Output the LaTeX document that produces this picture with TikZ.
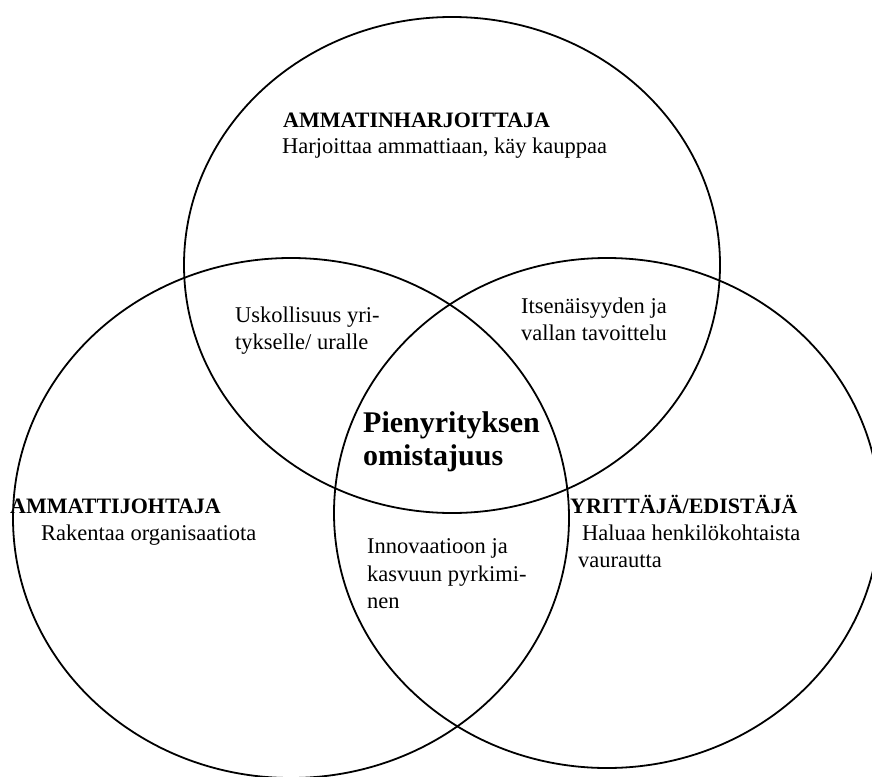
\documentclass[tikz,border=0pt]{standalone}
\usepackage{fontspec}
\setmainfont{Liberation Serif}
\begin{document}
\begin{tikzpicture}[x=1pt,y=-1pt,
  ring/.style={draw=black,line width=1.8pt},
  txt/.style={inner sep=0pt,anchor=base west,font=\fontsize{22.5}{26}\selectfont},
  head/.style={txt,font=\fontsize{22}{26}\selectfont\bfseries},
  core/.style={inner sep=0pt,anchor=base west,font=\fontsize{30}{34}\selectfont\bfseries}]
\useasboundingbox (0,0) rectangle (872,776);

% the three overlapping roles
\draw[ring] (452,265) ellipse [x radius=268pt, y radius=248pt];
\draw[ring] (291,518) ellipse [x radius=278pt, y radius=260pt];
\draw[ring] (607,513) ellipse [x radius=273pt, y radius=255pt];

% top circle
\node[head] (t1) at (283,127) {AMMATINHARJOITTAJA};
\node[txt]  (t2) at (282,153) {Harjoittaa ammattiaan, käy kauppaa};

% top/left overlap
\node[txt] (tl1) at (235,322) {Uskollisuus yri-};
\node[txt] (tl2) at (235,349) {tykselle/ uralle};

% top/right overlap
\node[txt] (tr1) at (521,313) {Itsenäisyyden ja};
\node[txt] (tr2) at (521,340) {vallan tavoittelu};

% centre
\node[core] (c1) at (363,432) {Pienyrityksen};
\node[core] (c2) at (363,465) {omistajuus};

% left circle
\node[head] (l1) at (10,513) {AMMATTIJOHTAJA};
\node[txt]  (l2) at (41,540) {Rakentaa organisaatiota};

% right circle
\node[head] (r1) at (570,513) {YRITTÄJÄ/EDISTÄJÄ};
\node[txt]  (r2) at (582,540) {Haluaa henkilökohtaista};
\node[txt]  (r3) at (578,567) {vaurautta};

% left/right overlap
\node[txt] (b1) at (367,553) {Innovaatioon ja};
\node[txt] (b2) at (367,581) {kasvuun pyrkimi-};
\node[txt] (b3) at (367,608) {nen};
\end{tikzpicture}
\end{document}
